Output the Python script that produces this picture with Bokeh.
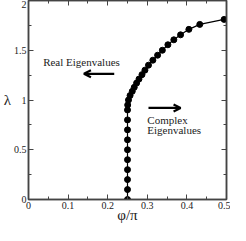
from bokeh.plotting import figure
from bokeh.models import (LinearAxis, FixedTicker, Label, Arrow, OpenHead, Range1d,
                          CustomLabelingPolicy)
from bokeh.embed import file_html
from bokeh.resources import INLINE

# data
phi = [0.25, 0.25, 0.25, 0.25, 0.25, 0.25, 0.25, 0.25, 0.25, 0.25,
       0.2505, 0.2525, 0.2565, 0.262, 0.267, 0.273, 0.279, 0.2866,
       0.294, 0.303, 0.314, 0.326, 0.338, 0.352, 0.367, 0.384, 0.405,
       0.4325, 0.494]
lam = [0.0, 0.1, 0.2, 0.3, 0.4, 0.5, 0.6, 0.7, 0.8, 0.9,
       0.95, 1.0, 1.045, 1.087, 1.127, 1.17, 1.21, 1.255,
       1.30, 1.35, 1.40, 1.45, 1.50, 1.555, 1.605, 1.655, 1.71,
       1.76, 1.81]

x_major = [0, 0.1, 0.2, 0.3, 0.4, 0.5]
x_minor = [0.05, 0.15, 0.25, 0.35, 0.45]
x_labels = ["0", "0.1", "0.2", "0.3", "0.4", "0.5"]
y_major = [0, 0.5, 1, 1.5, 2]
y_minor = [0.25, 0.75, 1.25, 1.75]
y_labels = ["0", "0.5", "1", "1.5", "2"]

FONT = "Liberation Serif"
AX = "#444444"

p = figure(width=230, height=225, output_backend="svg", toolbar_location=None,
           x_range=Range1d(0, 0.5), y_range=Range1d(0, 2),
           x_axis_location=None, y_axis_location=None,
           min_border_left=22, min_border_right=4, min_border_top=0,
           min_border_bottom=0)
p.grid.visible = False
p.outline_line_color = AX
p.outline_line_width = 1.5
p.background_fill_color = "white"
p.border_fill_color = "white"

hide_all = CustomLabelingPolicy(code="return new Set()")


def make_axis(major, minor, labels, show_labels):
    ax = LinearAxis(ticker=FixedTicker(ticks=major, minor_ticks=minor))
    ax.major_label_overrides = {m: l for m, l in zip(major, labels)}
    ax.axis_line_color = AX
    ax.axis_line_width = 1.5
    ax.major_tick_line_color = AX
    ax.minor_tick_line_color = AX
    ax.major_tick_in = 5
    ax.major_tick_out = 0
    ax.minor_tick_in = 3
    ax.minor_tick_out = 0
    ax.major_label_text_font = FONT
    ax.major_label_text_color = "#222222"
    if show_labels:
        ax.major_label_text_font_size = "10px"
        ax.major_label_standoff = 2
    else:
        ax.major_label_text_font_size = "0px"
        ax.major_label_policy = hide_all
        ax.major_label_standoff = 0
    return ax


xb = make_axis(x_major, x_minor, x_labels, True)
xb.axis_label = "φ/π"
xb.axis_label_text_font = FONT
xb.axis_label_text_font_style = "normal"
xb.axis_label_text_font_size = "15px"
xb.axis_label_text_color = "#222222"
xb.axis_label_standoff = -5
p.add_layout(xb, "below")

yl = make_axis(y_major, y_minor, y_labels, True)
yl.axis_label = "λ"
yl.axis_label_orientation = "normal"
yl.axis_label_text_font = FONT
yl.axis_label_text_font_style = "normal"
yl.axis_label_text_font_size = "15px"
yl.axis_label_text_color = "#222222"
yl.axis_label_standoff = 0
p.add_layout(yl, "left")

p.add_layout(make_axis(x_major, x_minor, x_labels, False), "above")
p.add_layout(make_axis(y_major, y_minor, y_labels, False), "right")

p.line(phi, lam, line_color="black", line_width=1.2)
p.scatter(phi, lam, size=6, fill_color="black", line_color="black")

p.add_layout(Label(x=0.037, y=1.38, text="Real Eigenvalues", text_font=FONT,
                   text_font_size="11px", text_baseline="middle", text_color="#222222"))
p.add_layout(Label(x=0.30, y=0.80, text="Complex", text_font=FONT,
                   text_font_size="11px", text_baseline="middle", text_color="#222222"))
p.add_layout(Label(x=0.30, y=0.70, text="Eigenvalues", text_font=FONT,
                   text_font_size="11px", text_baseline="middle", text_color="#222222"))

p.add_layout(Arrow(end=OpenHead(size=7, line_width=2.2, line_color="black"),
                   x_start=0.2165, y_start=1.263, x_end=0.14, y_end=1.263,
                   line_width=2.2, line_color="black"))
p.add_layout(Arrow(end=OpenHead(size=7, line_width=2.2, line_color="black"),
                   x_start=0.303, y_start=0.92, x_end=0.384, y_end=0.92,
                   line_width=2.2, line_color="black"))

open("out.html", "w").write(file_html(p, INLINE))
